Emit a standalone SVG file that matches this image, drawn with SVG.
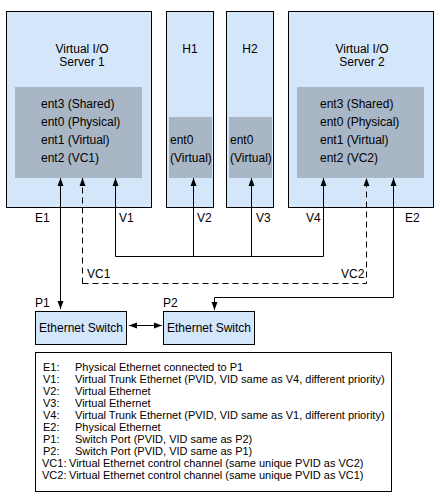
<svg xmlns="http://www.w3.org/2000/svg" width="440" height="500" viewBox="0 0 440 500">
<defs>
<style>
.box{fill:#d4e6fa;stroke:#000;stroke-width:1}
.inner{fill:#a9b6c6;stroke:none}
.t{font-family:"Liberation Sans",Arial,sans-serif;font-size:12px;fill:#000}
.lg{font-family:"Liberation Sans",Arial,sans-serif;font-size:11px;fill:#000}
.c{text-anchor:middle}
.ln{fill:none;stroke:#000;stroke-width:1}
.dash{stroke-dasharray:6,4}
</style>
<marker id="ah" viewBox="0 0 8 8" refX="8" refY="4" markerWidth="8" markerHeight="8" markerUnits="userSpaceOnUse" orient="auto-start-reverse">
<path d="M0,1 L8,4 L0,7 Z" fill="#000"/>
</marker>
</defs>
<rect width="440" height="500" fill="#fff"/>
<g id="vios1">
<rect class="box" x="6.5" y="11.5" width="145" height="196"/>
<rect class="inner" x="15" y="87" width="127" height="91"/>
<text class="t c" x="82" y="53">Virtual I/O</text>
<text class="t c" x="82" y="66">Server 1</text>
<text class="t" x="41" y="108">ent3 (Shared)</text>
<text class="t" x="41" y="126">ent0 (Physical)</text>
<text class="t" x="41" y="144">ent1 (Virtual)</text>
<text class="t" x="41" y="162">ent2 (VC1)</text>
</g>
<g id="h1">
<rect class="box" x="166.5" y="11.5" width="47" height="196"/>
<rect class="inner" x="169" y="117" width="43" height="61"/>
<text class="t c" x="190" y="53">H1</text>
<text class="t" x="170" y="144">ent0</text>
<text class="t" x="170" y="162">(Virtual)</text>
</g>
<g id="h2">
<rect class="box" x="226.5" y="11.5" width="47" height="196"/>
<rect class="inner" x="229" y="117" width="43" height="61"/>
<text class="t c" x="250" y="53">H2</text>
<text class="t" x="230" y="144">ent0</text>
<text class="t" x="230" y="162">(Virtual)</text>
</g>
<g id="vios2">
<rect class="box" x="288.5" y="11.5" width="145" height="196"/>
<rect class="inner" x="297" y="87" width="127" height="91"/>
<text class="t c" x="362" y="53">Virtual I/O</text>
<text class="t c" x="362" y="66">Server 2</text>
<text class="t" x="320" y="108">ent3 (Shared)</text>
<text class="t" x="320" y="126">ent0 (Physical)</text>
<text class="t" x="320" y="144">ent1 (Virtual)</text>
<text class="t" x="320" y="162">ent2 (VC2)</text>
</g>
<g id="switch1">
<rect class="box" x="35.5" y="311.5" width="91" height="33"/>
<text class="t c" x="81" y="332">Ethernet Switch</text>
</g>
<g id="switch2">
<rect class="box" x="163.5" y="311.5" width="91" height="33"/>
<text class="t c" x="209" y="332">Ethernet Switch</text>
</g>
<g id="connectors">
<path class="ln" d="M60.5,178 V309" marker-start="url(#ah)" marker-end="url(#ah)"/>
<path class="ln dash" d="M82.5,283.5 V178" marker-end="url(#ah)"/>
<path class="ln dash" d="M82.5,283.5 H366.5 V178" marker-end="url(#ah)"/>
<path class="ln" d="M115.5,256.5 V178" marker-end="url(#ah)"/>
<path class="ln" d="M115.5,256.5 H323.5 V178" marker-end="url(#ah)"/>
<path class="ln" d="M193.5,256.5 V178" marker-end="url(#ah)"/>
<path class="ln" d="M251.5,256.5 V178" marker-end="url(#ah)"/>
<path class="ln" d="M393.5,178 V297.5 H214.5 V310" marker-start="url(#ah)" marker-end="url(#ah)"/>
<path class="ln" d="M129,325.5 H162" marker-start="url(#ah)" marker-end="url(#ah)"/>
</g>
<g id="labels">
<text class="t" x="35" y="222">E1</text>
<text class="t" x="119" y="222">V1</text>
<text class="t" x="197" y="222">V2</text>
<text class="t" x="256" y="222">V3</text>
<text class="t" x="306" y="222">V4</text>
<text class="t" x="405" y="222">E2</text>
<text class="t" x="87" y="278">VC1</text>
<text class="t" x="341" y="278">VC2</text>
<text class="t" x="35" y="307">P1</text>
<text class="t" x="163" y="307">P2</text>
</g>
<g id="legend">
<rect x="35.5" y="352.5" width="356" height="139" fill="#fff" stroke="#000"/>
<text class="lg" x="43" y="371">E1:</text><text class="lg" x="75" y="371">Physical Ethernet connected to P1</text>
<text class="lg" x="43" y="383">V1:</text><text class="lg" x="75" y="383">Virtual Trunk Ethernet (PVID, VID same as V4, different priority)</text>
<text class="lg" x="43" y="395">V2:</text><text class="lg" x="75" y="395">Virtual Ethernet</text>
<text class="lg" x="43" y="407">V3:</text><text class="lg" x="75" y="407">Virtual Ethernet</text>
<text class="lg" x="43" y="419">V4:</text><text class="lg" x="75" y="419">Virtual Trunk Ethernet (PVID, VID same as V1, different priority)</text>
<text class="lg" x="43" y="431">E2:</text><text class="lg" x="75" y="431">Physical Ethernet</text>
<text class="lg" x="43" y="443">P1:</text><text class="lg" x="75" y="443">Switch Port (PVID, VID same as P2)</text>
<text class="lg" x="43" y="455">P2:</text><text class="lg" x="75" y="455">Switch Port (PVID, VID same as P1)</text>
<text class="lg" x="42" y="467">VC1:</text><text class="lg" x="69" y="467">Virtual Ethernet control channel (same unique PVID as VC2)</text>
<text class="lg" x="42" y="479">VC2:</text><text class="lg" x="69" y="479">Virtual Ethernet control channel (same unique PVID as VC1)</text>
</g>
</svg>
